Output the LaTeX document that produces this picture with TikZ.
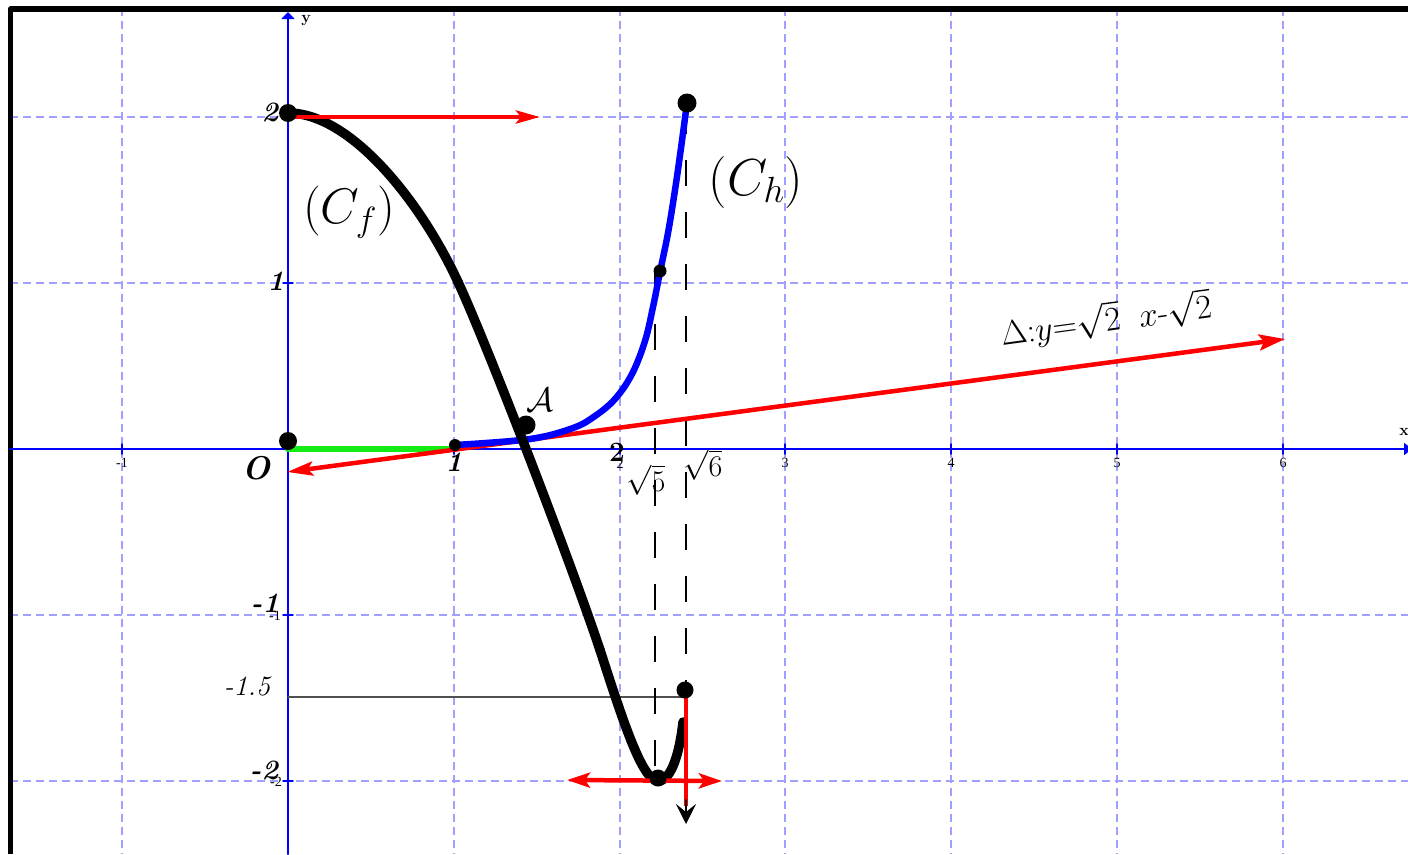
\RequirePackage{fix-cm}
\documentclass[tikz,border=0pt]{standalone}
\usepackage{fontspec}
\newfontfamily\tickfont{Liberation Serif}
\usetikzlibrary{arrows.meta}

\definecolor{gridblue}{RGB}{160,160,255}
\definecolor{axisblue}{RGB}{0,0,255}
\definecolor{curvered}{RGB}{255,0,0}
\definecolor{segreen}{RGB}{20,235,20}
\definecolor{thingray}{RGB}{80,80,80}

\tikzset{
  gridline/.style={draw=gridblue, line width=1.5pt, dash pattern=on 8pt off 5pt, line cap=butt},
  axisline/.style={draw=axisblue, line width=2.2pt},
  curvef/.style={draw=black, line width=9.5pt},
  curveh/.style={draw=axisblue, line width=6.5pt},
  redarrow/.style={draw=curvered, line width=4.5pt, line cap=butt},
  limitline/.style={draw=black, line width=2pt, dash pattern=on 26pt off 26pt, line cap=butt},
  ticklbl/.style={inner sep=0pt, font=\tickfont\fontsize{14}{16}\selectfont},
  boldlbl/.style={inner sep=0pt, font=\fontsize{28}{34}\selectfont\bfseries\itshape},
}

\begin{document}
\begin{tikzpicture}[x=1pt, y=-1pt, line cap=round, line join=round]

  %% ════ 网格 ════
  \foreach \gx in {122,454,620,785,951,1117,1283}
    \draw[gridline] (\gx,8) -- (\gx,854);
  \foreach \gy in {117,283,615,781}
    \draw[gridline] (10,\gy) -- (1408,\gy);

  %% ════ 外框 ════
  \draw[line width=5.5pt, line cap=butt] (10.5,854) -- (10.5,9) -- (1408,9);

  %% ════ 坐标轴 ════
  \draw[axisline, -{Triangle[length=8pt,width=12pt]}] (10,449) -- (1412,449);
  \draw[axisline, -{Triangle[length=7pt,width=13pt]}] (288,854) -- (288,12);
  \foreach \gx in {122,454,620,785,951,1117,1283}
    \draw[axisline, line width=1.5pt] (\gx,444) -- (\gx,454);
  \foreach \gy in {117,283,615,781}
    \draw[axisline, line width=1.5pt] (283,\gy) -- (293,\gy);
  \node[inner sep=0pt, font=\fontsize{16}{18}\selectfont\bfseries] (xname) at (1404,432) {x};
  \node[inner sep=0pt, font=\fontsize{16}{18}\selectfont\bfseries] (yname) at (306,21) {y};

  %% ════ 刻度小字 ════
  \node[ticklbl] (tkxm1) at (122,463) {-1};
  \node[ticklbl] (tkx2) at (620,464) {2};
  \node[ticklbl] (tkx3) at (785,463) {3};
  \node[ticklbl] (tkx4) at (951,463) {4};
  \node[ticklbl] (tkx5) at (1117,463) {5};
  \node[ticklbl] (tkx6) at (1283,463) {6};
  \node[ticklbl] (tkym1) at (275,616) {-1};
  \node[ticklbl] (tkym2) at (276,782) {-2};

  %% ════ 辅助线 ════
  \draw[draw=thingray, line width=1.6pt] (288,697) -- (685,697);
  \draw[limitline] (655,272) -- (655,781);
  \draw[limitline] (686,108) -- (686,690);

  %% ════ 线段与直线 ════
  \draw[draw=segreen, line width=6.5pt] (288,449) -- (454,449);
  \draw[redarrow, {Stealth[length=26pt,width=14pt,inset=5pt]}-{Stealth[length=26pt,width=16pt,inset=5pt]}]
    (287,472) -- (1285,339);

  %% ════ 曲线 ════
  \draw[curveh] plot[smooth, tension=0.6] coordinates {(455,445) (530,439) (573,428) (595,416) (615,399)
    (632,374) (645,341) (653,307) (660,272) (668,233) (675,190) (681,148) (687,103)};

  \draw[curvef] (288,113) .. controls (350,113) and (420,200) .. (458,282);
  \draw[curvef] (458,282) .. controls (486,342) and (570,560) .. (600,650);
  \draw[curvef] (600,650) .. controls (622,718) and (642,781) .. (658,781);
  \draw[curvef] (658,781) .. controls (672,781) and (680,750) .. (683,722);

  %% ════ 半切线箭头 ════
  \draw[redarrow, -{Stealth[length=24pt,width=13pt,inset=5pt]}] (288,117) -- (540,117);
  \draw[redarrow, {Stealth[length=23pt,width=15pt,inset=5pt]}-{Stealth[length=23pt,width=15pt,inset=5pt]}]
    (567,780) -- (722,781);
  \draw[redarrow] (686,697) -- (686,806);
  \draw[line width=2pt, -{Stealth[length=20pt,width=20pt,inset=8pt]}] (686,800) -- (686,824);

  %% ════ 实心点 ════
  \fill (288,113) circle (9);
  \fill (288,441) circle (9);
  \fill (455,445) circle (6);
  \fill (458,282) circle (4.5);
  \fill (526,425) circle (9.5);
  \fill (660,271) circle (6.5);
  \fill (687,103) circle (9.5);
  \fill (685,690) circle (8.5);
  \fill (658,778) circle (8.5);

  %% ════ 标签 ════
  \node[boldlbl] (ytwo) at (270,112) {2};
  \node[boldlbl] (yone) at (276,281) {1};
  \node[boldlbl] (ymone) at (265,603) {-1};
  \node[inner sep=0pt, font=\fontsize{28}{34}\selectfont\itshape] (ymonefive) at (247,686) {-1.5};
  \node[boldlbl] (ymtwo) at (264,770) {-2};
  \node[boldlbl, font=\fontsize{33}{40}\selectfont\bfseries\itshape] (origin) at (256,468) {O};
  \node[boldlbl] (xone) at (454,462) {1};
  \node[inner sep=0pt, font=\fontsize{28}{34}\selectfont\bfseries] (xtwo) at (617,452) {2};
  \node[inner sep=0pt, font=\fontsize{30}{36}\selectfont] (sqfive) at (646,480) {$\sqrt{5}$};
  \node[inner sep=0pt, font=\fontsize{30}{36}\selectfont] (sqsix) at (703,465) {$\sqrt{6}$};
  \node[inner sep=0pt, font=\fontsize{50}{60}\selectfont] (namef) at (349,212) {$(C_f)$};
  \node[inner sep=0pt, font=\fontsize{52}{62}\selectfont] (nameh) at (756,182) {$(C_h)$};
  \node[inner sep=0pt, font=\fontsize{34}{40}\selectfont] (nameA) at (540,400) {$\mathcal{A}$};
  \node[inner sep=0pt, rotate=7.7, font=\fontsize{34}{40}\selectfont] (namedelta) at (1106,320)
    {$\Delta{:}y{=}\sqrt{2}\;\;x\mbox{-}\sqrt{2}$};

  \pgfresetboundingbox
  \path[use as bounding box] (0,0) rectangle (1408,854);
\end{tikzpicture}
\end{document}
